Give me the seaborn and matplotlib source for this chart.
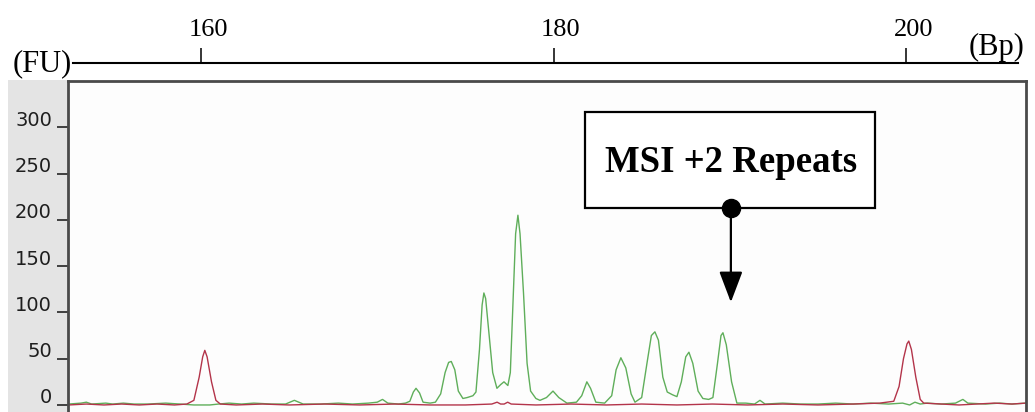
import numpy as np
import pandas as pd
import matplotlib
matplotlib.use("Agg")
import matplotlib.pyplot as plt
from matplotlib.patches import Rectangle
from matplotlib.transforms import ScaledTranslation
import seaborn as sns

# ---------------- data ----------------
green_bp = [152.5, 153.2, 153.5, 153.8, 154.6, 155.0, 155.6, 156.2, 157.0, 158.0, 158.8,
            159.6, 160.5, 161.0, 161.6, 162.3, 163.0, 164.0, 164.8, 165.3, 165.8, 166.8,
            167.8, 168.6, 169.5, 170.0, 170.3, 170.6, 171.2, 171.6, 171.85, 172.05, 172.2,
            172.4, 172.6, 173.0, 173.3, 173.6, 173.85, 174.05, 174.2, 174.4, 174.6, 174.86,
            175.1, 175.43, 175.6, 175.8, 175.95, 176.05, 176.15, 176.35, 176.55, 176.79,
            177.0, 177.19, 177.41, 177.55, 177.7, 177.85, 177.98, 178.1, 178.3, 178.5,
            178.7, 179.0, 179.23, 179.6, 179.97, 180.3, 180.76, 181.3, 181.6, 181.89, 182.1,
            182.4, 182.9, 183.3, 183.55, 183.82, 184.1, 184.4, 184.62, 185.0, 185.3, 185.55,
            185.75, 185.95, 186.2, 186.45, 186.75, 187.0, 187.25, 187.5, 187.68, 187.9,
            188.2, 188.47, 188.8, 189.04, 189.3, 189.5, 189.61, 189.8, 190.1, 190.4, 190.9,
            191.4, 191.71, 192.0, 193.0, 194.0, 195.0, 196.0, 197.0, 198.0, 199.0, 199.8,
            200.2, 200.5, 200.8, 201.2, 202.0, 202.8, 203.22, 203.5, 204.5, 205.3, 206.0, 206.8]
green_fu = [1, 2, 3, 1, 2, 1, 2, 1, 1, 2, 1,
            0, 0, 1, 2, 1, 2, 1, 1, 5, 1, 1,
            2, 1, 2, 3, 6, 2, 1, 2, 4, 14, 18,
            13, 3, 2, 3, 12, 35, 46, 47, 38, 15, 7,
            8, 10, 14, 60, 108, 121, 115, 75, 35, 18,
            22, 25, 21, 35, 110, 185, 205, 185, 120, 45,
            15, 7, 5, 8, 15, 8, 2, 3, 10, 25, 18,
            3, 2, 10, 38, 51, 40, 12, 3, 8, 45, 75,
            79, 70, 30, 14, 11, 9, 25, 52, 57, 45,
            15, 7, 6, 8, 45, 75, 78, 65, 25, 2, 2,
            1, 5, 1, 2, 1, 1, 2, 1, 2, 1, 2,
            0, 3, 1, 2, 1, 2, 6, 2, 1, 2, 1, 2]

red_bp = [152.5, 153.5, 154.5, 155.5, 156.5, 157.5, 158.5, 159.2, 159.6, 159.9, 160.1,
          160.22, 160.35, 160.6, 160.85, 161.1, 162.0, 163.5, 165.0, 167.0, 169.0, 171.0,
          173.0, 175.0, 176.5, 176.8, 177.0, 177.2, 177.4, 177.6, 179.0, 181.0, 183.0,
          185.0, 187.0, 189.0, 191.0, 193.0, 195.0, 197.0, 198.5, 199.3, 199.6, 199.85,
          200.05, 200.15, 200.3, 200.55, 200.8, 201.0, 202.0, 203.0, 204.0, 205.0, 206.0, 206.8]
red_fu = [0, 1, 0, 1, 0, 1, 0, 1, 5, 30, 52,
          59, 52, 25, 5, 1, 0, 1, 0, 1, 0, 1,
          0, 0, 1, 3, 1, 1, 3, 1, 0, 1, 0,
          1, 0, 1, 0, 1, 0, 1, 2, 4, 20, 50,
          66, 69, 60, 30, 6, 2, 1, 0, 1, 2, 1, 2]

y_ticks = [0, 50, 100, 150, 200, 250, 300]
bp_ticks = [160, 180, 200]
annotation_text = "MSI +2 Repeats"

# ---------------- figure ----------------
sns.set_style("white")
plt.rcParams["font.family"] = ["DejaVu Sans"]
plt.rcParams["text.color"] = "black"

SERIF = ["Liberation Serif", "DejaVu Serif"]
W, H = 1035, 412
fig = plt.figure(figsize=(W / 100, H / 100), dpi=100)

def fx(px):
    return px / W

def fy(py):
    return 1 - py / H

# grey label panel on the left (behind the axes)
fig.patches.append(Rectangle((fx(8), 0), fx(68) - fx(8), fy(80), transform=fig.transFigure,
                             facecolor="#e4e4e4", edgecolor="none", zorder=-5))

ax = fig.add_axes([fx(68), 0, fx(1026) - fx(68), fy(81)])
ax.set_facecolor("#fdfdfd")

df = pd.concat([
    pd.DataFrame({"bp": green_bp, "fu": green_fu, "channel": "green"}),
    pd.DataFrame({"bp": red_bp, "fu": red_fu, "channel": "red"}),
], ignore_index=True)

sns.lineplot(data=df, x="bp", y="fu", hue="channel",
             palette={"green": "#5fae5a", "red": "#b3344a"},
             sort=False, estimator=None, legend=False, linewidth=1.0, ax=ax)

ax.set_xlim(152.46, 206.80)
ax.set_ylim(-7.6, 350)
ax.set_xlabel("")
ax.set_ylabel("")
ax.set_xticks([])
ax.set_yticks(y_ticks)
ax.set_yticklabels([str(v) for v in y_ticks])
ax.tick_params(axis="y", which="major", left=True, direction="out", length=8, width=1.3,
               color="#333333", labelsize=14, labelcolor="#1e1e1e", pad=3.6)
off = ScaledTranslation(0, 9 / 100, fig.dpi_scale_trans)
for lab in ax.get_yticklabels():
    lab.set_transform(lab.get_transform() + off)

for side in ["top", "left", "right"]:
    ax.spines[side].set_visible(True)
    ax.spines[side].set_color("#4a4a4a")
    ax.spines[side].set_linewidth(2.0)
ax.spines["bottom"].set_visible(False)

# annotation box, dot and arrow
box_x0, box_x1 = 181.78, 198.23
box_y0, box_y1 = 213, 316
ax.add_patch(Rectangle((box_x0, box_y0), box_x1 - box_x0, box_y1 - box_y0,
                       facecolor="white", edgecolor="black", linewidth=1.6, zorder=5))
ax.text(190.06, 262, annotation_text, ha="center", va="center", fontsize=26.5,
        fontweight="bold", family=SERIF, color="black", zorder=6)
ax.annotate("", xy=(190.06, 111), xytext=(190.06, 213),
            arrowprops=dict(arrowstyle="-|>,head_length=0.95,head_width=0.36",
                            mutation_scale=20, lw=1.6, color="black",
                            shrinkA=0, shrinkB=0), zorder=6)
ax.plot([190.06], [213], marker="o", markersize=13, color="black", zorder=7, clip_on=False)

# top base-pair scale
axt = fig.add_axes([fx(73), fy(63), fx(1018) - fx(73), 1e-4])
axt.set_xlim(152.74, 206.34)
axt.set_yticks([])
axt.patch.set_visible(False)
for side in ["bottom", "left", "right"]:
    axt.spines[side].set_visible(False)
axt.spines["top"].set_color("black")
axt.spines["top"].set_linewidth(1.5)
axt.xaxis.set_ticks_position("top")
axt.set_xticks(bp_ticks)
axt.set_xticklabels([str(v) for v in bp_ticks])
axt.tick_params(axis="x", top=True, bottom=False, labeltop=True, labelbottom=False,
                direction="out", length=10.8, width=1.1, color="black", labelsize=19,
                labelcolor="black", pad=5)
offx = ScaledTranslation(7 / 100, 0, fig.dpi_scale_trans)
for lab in axt.get_xticklabels():
    lab.set_family(SERIF)
    lab.set_transform(lab.get_transform() + offx)

fig.text(fx(42), fy(64), "(FU)", ha="center", va="center", fontsize=22,
         family=SERIF, color="black")
fig.text(fx(997), fy(47), "(Bp)", ha="center", va="center", fontsize=22,
         family=SERIF, color="black")

fig.savefig("out.png", dpi=100)
